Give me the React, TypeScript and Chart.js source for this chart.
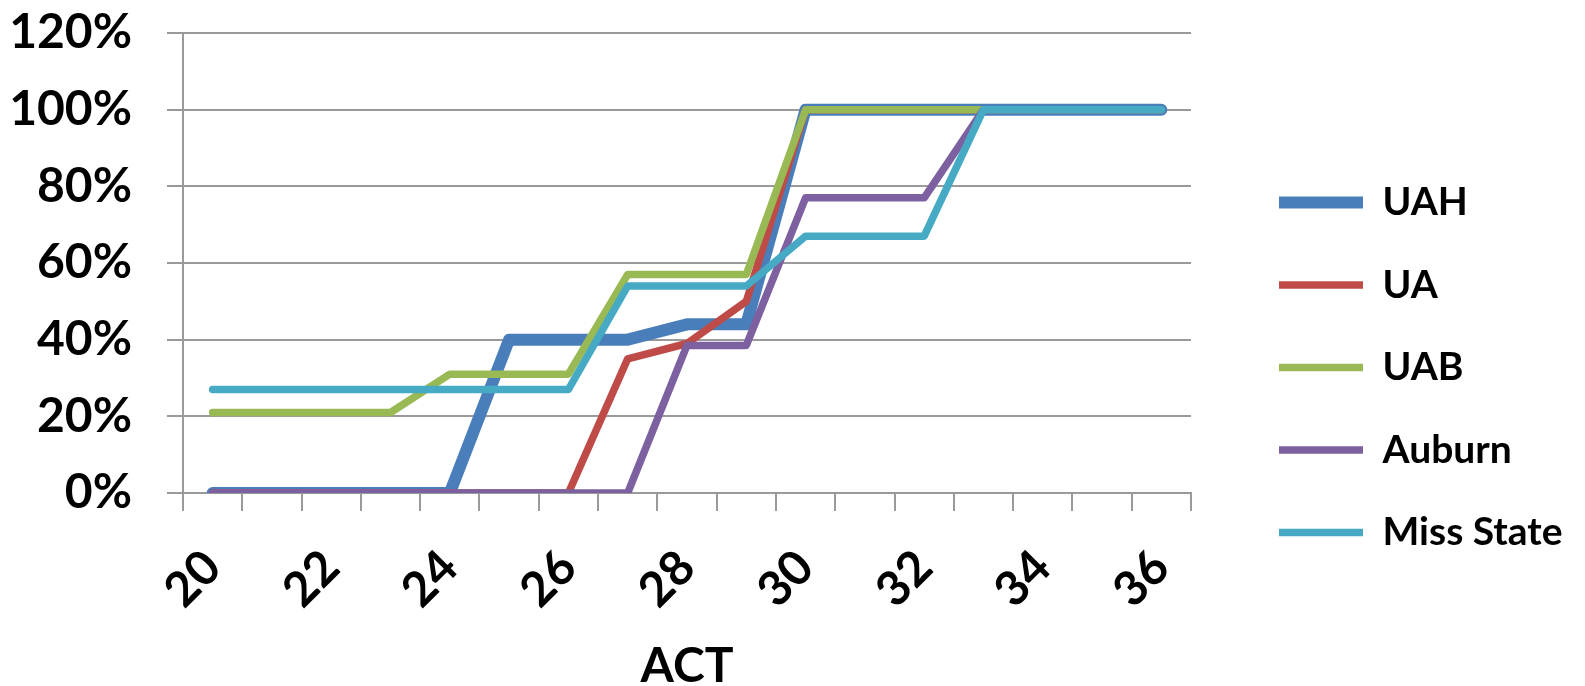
import React, { useEffect, useRef } from 'react';
import { Chart, registerables } from 'chart.js';

Chart.register(...registerables);

// ---- data ----
const categories = ['20', '21', '22', '23', '24', '25', '26', '27', '28', '29', '30', '31', '32', '33', '34', '35', '36'];
const seriesNames = ['UAH', 'UA', 'UAB', 'Auburn', 'Miss State'];
const uahValues = [0, 0, 0, 0, 0, 40, 40, 40, 44, 44, 100, 100, 100, 100, 100, 100, 100];
const uaValues = [0, 0, 0, 0, 0, 0, 0, 35, 39, 50, 100, 100, 100, 100, 100, 100, 100];
const uabValues = [21, 21, 21, 21, 31, 31, 31, 57, 57, 57, 100, 100, 100, 100, 100, 100, 100];
const auburnValues = [0, 0, 0, 0, 0, 0, 0, 0, 38.5, 38.5, 77, 77, 77, 100, 100, 100, 100];
const missStateValues = [27, 27, 27, 27, 27, 27, 27, 54, 54, 54, 67, 67, 67, 100, 100, 100, 100];
const seriesColors = ['#4A7EBB', '#BE4B48', '#98B954', '#7D60A0', '#46AAC5'];
const seriesWidths = [12, 7.5, 7.5, 7.5, 7.5];
const yTickValues = [0, 20, 40, 60, 80, 100, 120];

// ---- layout constants ----
const W = 1585;
const H = 686;
const PLOT_LEFT = 183;
const PLOT_BOTTOM = 493;
const PLOT_RIGHT = 1191;
const TOP_PAD = 33;
const FONT = 'Lato';
const TICK_SIZE = 48;
const LEGEND_SIZE = 39;
const LEGEND_PAD = 43.5;
const LEGEND_X = 1279;
const LEGEND_LINE = 84;
const GRID = '#9a9a9a';

export default function App() {
  const ref = useRef<HTMLCanvasElement>(null);

  useEffect(() => {
    const canvas = ref.current;
    if (!canvas) return;
    const m = document.createElement('canvas').getContext('2d')!;
    m.font = `bold ${LEGEND_SIZE}px ${FONT}`;
    const textW = Math.max(...seriesNames.map((n) => m.measureText(n).width));
    const padRight = Math.max(0, W - (LEGEND_X + LEGEND_LINE + LEGEND_SIZE / 2 + textW + 10));
    const gapAxis = LEGEND_X - LEGEND_PAD - PLOT_RIGHT;

    const values = [uahValues, uaValues, uabValues, auburnValues, missStateValues];
    const datasets = seriesNames.map((name, i) => ({
      label: name,
      data: values[i],
      borderColor: seriesColors[i],
      backgroundColor: seriesColors[i],
      borderWidth: seriesWidths[i],
      borderCapStyle: 'round' as const,
      borderJoinStyle: 'round' as const,
      pointRadius: 0,
      pointHoverRadius: 0,
      tension: 0,
      fill: false,
      order: seriesNames.length - i,
    }));

    const chart = new Chart(canvas, {
      type: 'line',
      data: { labels: categories, datasets },
      options: {
        animation: false,
        responsive: false,
        devicePixelRatio: 1,
        layout: { padding: { left: 0, top: TOP_PAD, right: padRight, bottom: 0 } },
        plugins: {
          tooltip: { enabled: false },
          legend: {
            position: 'right',
            align: 'center',
            maxWidth: 600,
            title: { display: true, text: ' ', font: { size: 1 }, padding: { top: 15, bottom: 0 } },
            labels: {
              usePointStyle: true,
              pointStyle: 'line',
              pointStyleWidth: LEGEND_LINE,
              padding: LEGEND_PAD,
              color: '#000',
              font: { family: FONT, size: LEGEND_SIZE, weight: 'bold' },
              sort: (a: any, b: any) => a.datasetIndex - b.datasetIndex,
            },
          },
        },
        scales: {
          x: {
            type: 'category',
            offset: true,
            grid: {
              display: true,
              drawOnChartArea: false,
              drawTicks: true,
              tickLength: 18,
              offset: true,
              color: GRID,
              lineWidth: 2,
            },
            border: { display: true, color: GRID, width: 2 },
            ticks: {
              autoSkip: false,
              minRotation: 45,
              maxRotation: 45,
              padding: 28,
              color: '#000',
              font: { family: FONT, size: TICK_SIZE, weight: 'bold' },
              callback: (_v: any, idx: number) => (idx % 2 === 0 ? categories[idx] : ''),
            },
            title: {
              display: true,
              text: 'ACT',
              color: '#000',
              font: { family: FONT, size: TICK_SIZE, weight: 'bold', lineHeight: 0.8 },
              padding: { top: 0, bottom: 0 },
            },
            afterFit: (s: any) => {
              s.height = H - PLOT_BOTTOM;
            },
          },
          y: {
            type: 'linear',
            min: 0,
            max: 120,
            afterBuildTicks: (s: any) => {
              s.ticks = yTickValues.map((v) => ({ value: v }));
            },
            grid: {
              display: true,
              drawOnChartArea: true,
              drawTicks: true,
              tickLength: 16,
              color: GRID,
              lineWidth: 2,
            },
            border: { display: true, color: GRID, width: 2 },
            ticks: {
              padding: 35,
              color: '#000',
              font: { family: FONT, size: TICK_SIZE, weight: 'bold' },
              callback: (v: any) => `${v}%`,
            },
            afterFit: (s: any) => {
              s.width = PLOT_LEFT;
              s.paddingTop = 0;
              s.paddingBottom = 0;
            },
          },
          gap: {
            type: 'linear',
            position: 'right',
            display: true,
            grid: { display: false, drawTicks: false },
            border: { display: false },
            ticks: { display: false },
            afterFit: (s: any) => {
              s.width = gapAxis;
            },
          },
        },
      },
    });
    return () => chart.destroy();
  }, []);

  return (
    <div style={{ position: 'absolute', left: 0, top: 0, width: W, height: H, background: '#fff' }}>
      <canvas ref={ref} width={W} height={H} style={{ width: W, height: H, display: 'block' }} />
    </div>
  );
}
